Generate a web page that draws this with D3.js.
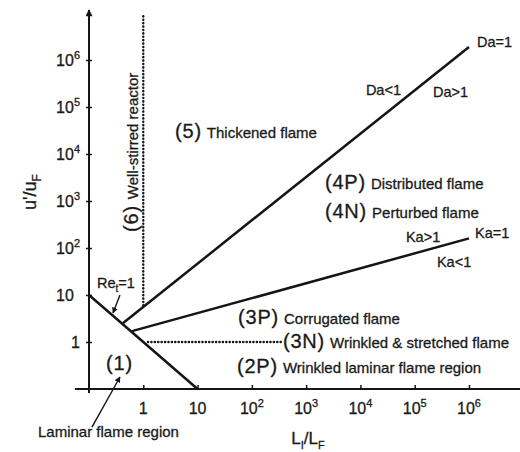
<!DOCTYPE html>
<html><head><meta charset="utf-8">
<script src="https://cdn.jsdelivr.net/npm/d3@7"></script>
<style>
body{margin:0;background:#fff}
svg{display:block}
text{font-family:"Liberation Sans",Arial,Helvetica,sans-serif;fill:#1a1a1a;stroke:#1a1a1a;stroke-width:0.3px}
</style>
</head><body>
<svg id="c" width="520" height="452"></svg>
<script>
// ---- data (log-log regime diagram) ----
const xTickValues = [1, 10, 1e2, 1e3, 1e4, 1e5, 1e6];
const yTickValues = [1, 10, 1e2, 1e3, 1e4, 1e5, 1e6];
const xAxisExtent = [0.055, 8.7e6];
const yAxisExtent = [0.082, 1.16e7];

const reLine  = [[0.1, 10], [10, 0.1]];          // Re_t = 1
const daLine  = [[0.42, 2.5], [1e6, 1.9e6]];     // Da = 1
const kaLine  = [[0.62, 1.7], [1e6, 160]];       // Ka = 1
const wsrLine = [[1, 6], [1, 9e6]];              // well-stirred reactor (dotted)
const strLine = [[1.22, 1], [370, 1]];           // u'/uF = 1 (dotted)

const regionTags  = ["(5)", "(4P)", "(4N)", "(3P)", "(3N)", "(2P)"];
const regionNames = ["Thickened flame", "Distributed flame", "Perturbed flame",
                     "Corrugated flame", "Wrinkled & stretched flame", "Wrinkled laminar flame region"];
const regionAt    = [[3.84, 2.94e4], [2223, 2415], [2223, 583], [55.6, 3.24], [374, 1.0], [53.2, 0.294]];

const lineLabels   = ["Da=1", "Da<1", "Da>1", "Ka=1", "Ka>1", "Ka<1"];
const lineLabelsAt = [[1.4e6, 2.42e6], [1.26e4, 2.3e5], [2.17e5, 2.08e5], [1.29e6, 208], [6.9e4, 171], [2.57e5, 50.4]];

const laminarTag = "(1)";
const laminarTagAt = [0.365, 0.357];
const laminarName = "Laminar flame region";
const laminarNameAt = [0.0115, 0.0122];
const laminarArrow = [[0.1135, 0.0155], [0.372, 0.18]];
const reLabelAt = [0.140, 18.0];
const reArrow = [[0.372, 10], [0.277, 4.14]];
const wsrTag = "(6)";
const wsrName = "Well-stirred reactor";
const wsrLabelAt = [0.62, 219];

// ---- drawing ----
const svg = d3.select("#c");
const x = d3.scaleLog().domain([0.1, 1e6]).range([89, 469]);
const y = d3.scaleLog().domain([0.1, 1e6]).range([389, 60]);
const line = d3.line().x(d => x(d[0])).y(d => y(d[1]));
const ink = "#151515";

const defs = svg.append("defs");
defs.append("marker").attr("id", "ah").attr("viewBox", "0 0 10 10")
  .attr("refX", 9).attr("refY", 5).attr("markerWidth", 6).attr("markerHeight", 6)
  .attr("markerUnits", "userSpaceOnUse").attr("orient", "auto")
  .append("path").attr("d", "M0,0L10,5L0,10z").attr("fill", ink);
defs.append("marker").attr("id", "ax").attr("viewBox", "0 0 10 10")
  .attr("refX", 9).attr("refY", 5).attr("markerWidth", 9).attr("markerHeight", 7)
  .attr("markerUnits", "userSpaceOnUse").attr("orient", "auto")
  .append("path").attr("d", "M0,0L10,5L0,10z").attr("fill", ink);

// axis lines
svg.append("line").attr("x1", x(0.1)).attr("x2", x(0.1))
  .attr("y1", y(yAxisExtent[0])).attr("y2", y(yAxisExtent[1]))
  .attr("stroke", ink).attr("stroke-width", 2).attr("marker-end", "url(#ax)");
svg.append("line").attr("x1", x(xAxisExtent[0])).attr("x2", x(xAxisExtent[1]))
  .attr("y1", y(0.1)).attr("y2", y(0.1))
  .attr("stroke", ink).attr("stroke-width", 2);

// ticks via d3 axes
const yAx = svg.append("g").attr("transform", `translate(${x(0.1)},0)`)
  .call(d3.axisLeft(y).tickValues(yTickValues).tickSize(3).tickFormat(""));
yAx.select(".domain").remove();
yAx.selectAll(".tick line").attr("x1", -3).attr("x2", 3).attr("stroke", ink).attr("stroke-width", 1.5);
const xAx = svg.append("g").attr("transform", `translate(0,${y(0.1)})`)
  .call(d3.axisBottom(x).tickValues(xTickValues).tickSize(4).tickFormat(""));
xAx.select(".domain").remove();
xAx.selectAll(".tick line").attr("y1", -4).attr("y2", 1).attr("stroke", ink).attr("stroke-width", 1.5);

function powLabel(sel, v) {
  const e = Math.round(Math.log10(v));
  if (e === 0) { sel.append("tspan").text("1"); return; }
  sel.append("tspan").text("10");
  const s = sel.append("tspan").attr("font-size", 11).attr("dy", -7).text(e === 1 ? "0" : String(e));
  if (e === 1) s.attr("fill-opacity", 0).attr("stroke-opacity", 0);
}
yTickValues.forEach(v => {
  const t = svg.append("text").attr("x", x(0.1) - 9).attr("y", y(v)).attr("dy", "0.36em")
    .attr("text-anchor", "end").attr("font-size", 16);
  powLabel(t, v);
});
xTickValues.forEach(v => {
  const t = svg.append("text").attr("x", x(v)).attr("y", y(0.1) + 19).attr("dy", "0.36em")
    .attr("text-anchor", "middle").attr("font-size", 16);
  powLabel(t, v);
  if (Math.round(Math.log10(v)) === 1) t.select("tspan:last-child").remove();
});

// axis titles
const yt = svg.append("text").attr("transform", `translate(36,192) rotate(-90)`)
  .attr("text-anchor", "middle").attr("font-size", 18);
yt.append("tspan").text("u'/u");
yt.append("tspan").attr("font-size", 12).attr("dy", 5).text("F");
const xt = svg.append("text").attr("x", 308).attr("y", 444)
  .attr("text-anchor", "middle").attr("font-size", 17);
xt.append("tspan").text("L");
xt.append("tspan").attr("font-size", 11).attr("dy", 5).text("I");
xt.append("tspan").attr("dy", -5).text("/L");
xt.append("tspan").attr("font-size", 11).attr("dy", 5).text("F");

// boundary lines
[reLine, daLine, kaLine].forEach(d => {
  svg.append("path").attr("d", line(d)).attr("fill", "none")
    .attr("stroke", ink).attr("stroke-width", 2.5);
});
[wsrLine, strLine].forEach(d => {
  svg.append("path").attr("d", line(d)).attr("fill", "none")
    .attr("stroke", ink).attr("stroke-width", 2.4).attr("stroke-linecap", "round")
    .attr("stroke-dasharray", "0.2,3.2");
});

// region labels
regionTags.forEach((tag, i) => {
  const t = svg.append("text").attr("x", x(regionAt[i][0])).attr("y", y(regionAt[i][1])).attr("dy", "0.36em");
  t.append("tspan").attr("font-size", 20).attr("letter-spacing", 0.8).text(tag);
  t.append("tspan").attr("font-size", 15).attr("dx", 5).text(regionNames[i]);
});
lineLabels.forEach((s, i) => {
  svg.append("text").attr("x", x(lineLabelsAt[i][0])).attr("y", y(lineLabelsAt[i][1]))
    .attr("dy", "0.36em").attr("font-size", 14.5).text(s);
});

// laminar region
svg.append("text").attr("x", x(laminarTagAt[0])).attr("y", y(laminarTagAt[1])).attr("dy", "0.36em")
  .attr("text-anchor", "middle").attr("font-size", 20).attr("letter-spacing", 0.8).text(laminarTag);
svg.append("text").attr("x", x(laminarNameAt[0])).attr("y", y(laminarNameAt[1])).attr("dy", "0.36em")
  .attr("font-size", 15).text(laminarName);
svg.append("path").attr("d", line(laminarArrow)).attr("stroke", ink).attr("stroke-width", 1.4)
  .attr("fill", "none").attr("marker-end", "url(#ah)");

// Re_t = 1
const rl = svg.append("text").attr("x", x(reLabelAt[0])).attr("y", y(reLabelAt[1])).attr("dy", "0.36em")
  .attr("font-size", 14.5);
rl.append("tspan").text("Re");
rl.append("tspan").attr("font-size", 10).attr("dy", 4).text("t");
rl.append("tspan").attr("dy", -4).text("=1");
svg.append("path").attr("d", line(reArrow)).attr("stroke", ink).attr("stroke-width", 1.4)
  .attr("fill", "none").attr("marker-end", "url(#ah)");

// well-stirred reactor
const wl = svg.append("text")
  .attr("transform", `translate(${x(wsrLabelAt[0])},${y(wsrLabelAt[1])}) rotate(-90)`)
  .attr("dy", "0.36em");
wl.append("tspan").attr("font-size", 20).attr("letter-spacing", 0.8).text(wsrTag);
wl.append("tspan").attr("font-size", 15).attr("dx", 6).text(wsrName);
</script>
</body></html>
